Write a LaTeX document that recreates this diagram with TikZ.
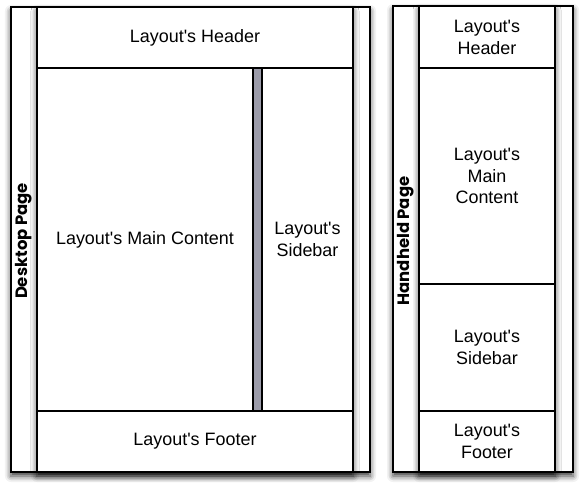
\documentclass[tikz,border=0pt]{standalone}
\usepackage{fontspec}
\setmainfont{Liberation Sans}[Ligatures=TeXOff]
\newfontfamily\pagefont{Poppins}
\usetikzlibrary{shadows.blur}
\definecolor{barfill}{HTML}{9C9CAA}
\tikzset{
	page/.style={draw, line width=1.1bp, fill=white, inner sep=0pt,
		blur shadow={shadow xshift=0bp, shadow yshift=-4bp, shadow blur radius=6bp, shadow opacity=80}},
	region/.style={draw, line width=1.1bp, inner sep=0pt, align=center,
		font=\fontsize{18}{22}\selectfont},
	pagelabel/.style={rotate=90, font=\pagefont\bfseries\fontsize{16.5}{18}\selectfont}
}
\begin{document}
\begin{tikzpicture}[x=1bp, y=-1bp]
	\useasboundingbox (0,0) rectangle (584,487);
	% desktop page
	\node[page, minimum width=359bp, minimum height=465bp] (dpage) at (190.5,239.5) {};
	\node[page, minimum width=316bp, minimum height=465bp] (dbody) at (195,239.5) {};
	\node[region, minimum width=316bp, minimum height=61bp] (dhead) at (195,37.5) {Layout's Header};
	\node[region, minimum width=216bp, minimum height=343bp] (dmain) at (145,239.5) {Layout's Main Content};
	\node[region, minimum width=9bp, minimum height=343bp, fill=barfill] (dbar) at (257.5,239.5) {};
	\node[region, minimum width=91bp, minimum height=343bp] (dside) at (307.5,239.5) {Layout's\\Sidebar};
	\node[region, minimum width=316bp, minimum height=61bp] (dfoot) at (195,441.5) {Layout's Footer};
	\node[pagelabel] (dlabel) at (24,241) {Desktop Page};
	% handheld page
	\node[page, minimum width=180bp, minimum height=466bp] (hpage) at (483,239) {};
	\node[page, minimum width=136bp, minimum height=466bp] (hbody) at (487,239) {};
	\node[region, minimum width=136bp, minimum height=62bp] (hhead) at (487,37) {Layout's\\Header};
	\node[region, minimum width=136bp, minimum height=216bp] (hmain) at (487,176) {Layout's\\Main\\Content};
	\node[region, minimum width=136bp, minimum height=127bp] (hside) at (487,347.5) {Layout's\\Sidebar};
	\node[region, minimum width=136bp, minimum height=61bp] (hfoot) at (487,441.5) {Layout's\\Footer};
	\node[pagelabel] (hlabel) at (406,241) {Handheld Page};
\end{tikzpicture}
\end{document}
